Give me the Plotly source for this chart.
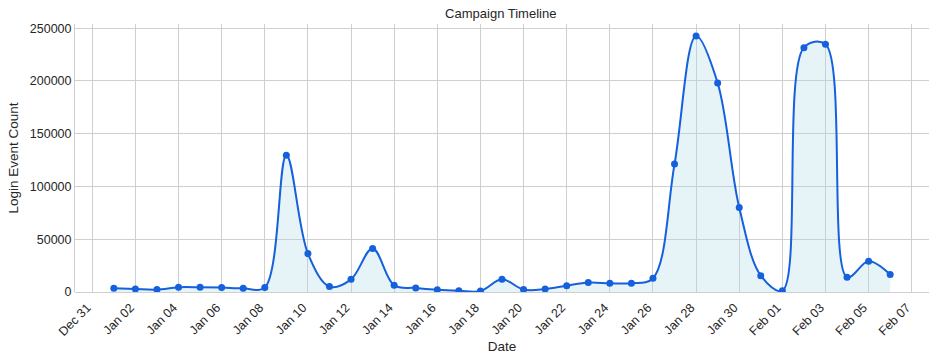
import plotly.graph_objects as go
import pandas as pd

dates = pd.date_range("2024-01-01", "2024-02-06", freq="D").strftime("%Y-%m-%d").tolist()
login_counts = [
    3500, 2800, 2300, 4500, 4500, 4200, 3500, 4300, 129500, 36400,
    5100, 12000, 41200, 6300, 3800, 2200, 1300, 900, 12000, 2300,
    2800, 6000, 8900, 8300, 8300, 13000, 121200, 242700, 198100, 80100,
    15500, 1300, 231600, 234800, 14000, 29100, 16500,
]
title_text = "Campaign Timeline"
x_label = "Date"
y_label = "Login Event Count"
y_ticks = [0, 50000, 100000, 150000, 200000, 250000]

LINE = "#1560dc"
FILL = "rgba(173,216,230,0.3)"
GRID = "#cfcfcf"
FONT = "Liberation Sans, Arial, sans-serif"

fig = go.Figure()
fig.add_trace(go.Scatter(
    x=dates, y=login_counts, mode="lines",
    line=dict(color=LINE, width=2, shape="spline", smoothing=1.0),
    fill="tozeroy", fillcolor=FILL, hoverinfo="skip", showlegend=False,
))
fig.add_trace(go.Scatter(
    x=dates, y=login_counts, mode="markers",
    marker=dict(color=LINE, size=7), showlegend=False,
))

fig.update_layout(
    width=936, height=362,
    margin=dict(l=75, r=7, t=24, b=70),
    paper_bgcolor="white", plot_bgcolor="white",
    font=dict(family=FONT, size=12, color="#262626"),
    title=dict(text=title_text, x=0.535, xanchor="center", y=0.975, yanchor="top",
               font=dict(size=13, color="#262626")),
)
fig.update_xaxes(
    type="date",
    range=["2023-12-30 04:48", "2024-02-07 19:12"],
    tick0="2023-12-31", dtick=2 * 86400000,
    tickformat="%b %d", tickangle=-45,
    showgrid=True, gridcolor=GRID, gridwidth=1,
    showline=False, zeroline=False, ticks="",
    ticklabelshift=-5, ticklabelstandoff=5,
    tickfont=dict(size=12.5, color="#262626"),
    title=dict(text=x_label, font=dict(size=13.5, color="#262626"), standoff=3),
)
fig.update_yaxes(
    range=[0, 254000],
    tickvals=y_ticks, tickformat="d",
    showgrid=True, gridcolor=GRID, gridwidth=1,
    showline=True, linecolor=GRID, linewidth=1,
    zeroline=True, zerolinecolor=GRID, zerolinewidth=1,
    ticks="", ticklen=0,
    tickfont=dict(size=12.5, color="#262626"),
    title=dict(text=y_label, font=dict(size=13.5, color="#262626"), standoff=8),
)

fig.write_html("out.html")
